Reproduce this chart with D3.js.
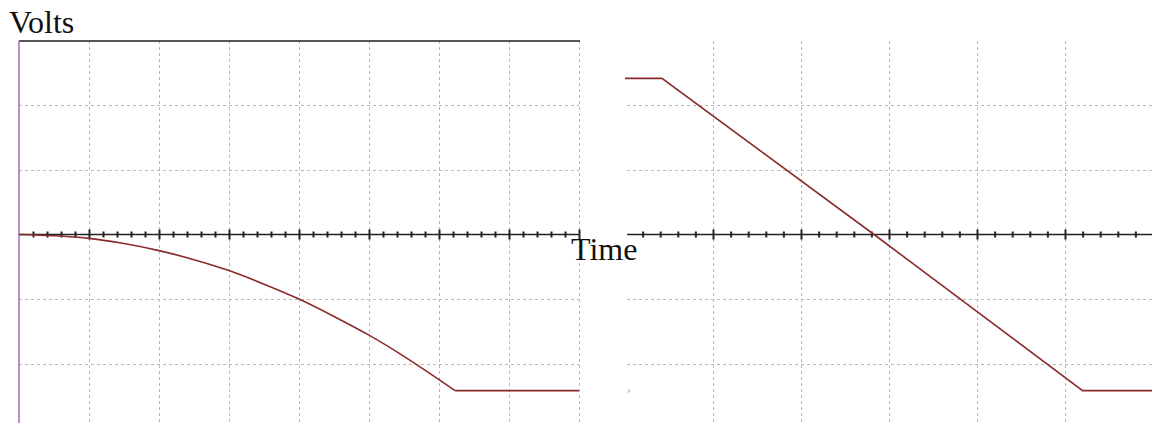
<!DOCTYPE html>
<html>
<head>
<meta charset="utf-8">
<script src="https://cdn.jsdelivr.net/npm/d3@7"></script>
<style>
  html, body { margin: 0; padding: 0; background: #fff; }
  svg { display: block; }
  text { font-family: "Liberation Serif", "Times New Roman", serif; fill: #111; }
</style>
</head>
<body>
<svg id="chart" width="1152" height="423"></svg>
<script>
// Left trace: voltage (in divisions) against time (in divisions)
const leftTime  = [0, 0.5, 1, 1.5, 2, 2.5, 3, 3.5, 4, 4.5, 5, 5.5, 6, 6.23, 8];
const leftVolts = [0, -0.02, -0.06, -0.14, -0.25, -0.39, -0.56, -0.77, -1.0, -1.27, -1.56, -1.89, -2.25, -2.42, -2.42];
const leftBendIndex = 13;

// Right trace
const rightTime  = [0, 0.42, 2.83, 5.2, 6];
const rightVolts = [2.42, 2.42, 0, -2.42, -2.42];

// Grid divisions
const leftGridTimes  = [1, 2, 3, 4, 5, 6, 7, 8];
const rightGridTimes = [1, 2, 3, 4, 5];
const voltGrid       = [-2, -1, 1, 2];
const axisLabels     = { volts: "Volts", time: "Time" };

const svg = d3.select("#chart");

const y  = d3.scaleLinear().domain([-3, 3]).range([428, 41]);
const xL = d3.scaleLinear().domain([0, 8]).range([19, 579]);
const xR = d3.scaleLinear().domain([0, 6]).range([625, 1153]);

const gridStyle = sel => sel.attr("stroke", "#b9b9b9").attr("stroke-width", 1)
  .attr("stroke-dasharray", "3,3").attr("fill", "none");

function drawPanel(x, gridTimes, tMax, opts) {
  const g = svg.append("g");
  const [x0, x1] = [x(0) + (opts.gridInset || 0), Math.min(x(tMax), 1152)];

  // horizontal grid
  g.selectAll("line.hg").data(voltGrid).join("line").attr("class", "hg")
    .attr("x1", x0).attr("x2", x1)
    .attr("y1", d => Math.round(y(d)) + 0.5).attr("y2", d => Math.round(y(d)) + 0.5)
    .call(gridStyle);

  // vertical grid
  g.selectAll("line.vg").data(gridTimes).join("line").attr("class", "vg")
    .attr("x1", d => Math.round(x(d)) + 0.5).attr("x2", d => Math.round(x(d)) + 0.5)
    .attr("y1", y(3)).attr("y2", 423)
    .call(gridStyle);

  // time axis with minor ticks (5 per division) and larger ticks on divisions
  const minor = d3.range(1, Math.round(tMax * 5) + 1).map(i => i / 5)
    .filter(t => Math.abs(t - Math.round(t)) > 1e-6);
  const major = d3.range(1, Math.floor(tMax) + 1);
  const ay = y(0);

  const axMinorB = d3.axisBottom(x).tickValues(minor).tickSize(3).tickSizeOuter(0).tickFormat("");
  const axMinorT = d3.axisTop(x).tickValues(minor).tickSize(3).tickSizeOuter(0).tickFormat("");
  const axMajorB = d3.axisBottom(x).tickValues(major).tickSize(5).tickSizeOuter(0).tickFormat("");
  const axMajorT = d3.axisTop(x).tickValues(major).tickSize(5).tickSizeOuter(0).tickFormat("");

  [axMinorB, axMinorT, axMajorB, axMajorT].forEach(ax => {
    const a = g.append("g").attr("transform", `translate(0,${ay})`).call(ax);
    a.select(".domain").remove();
    a.selectAll(".tick line").attr("stroke", "#222").attr("stroke-width", 2);
  });

  g.append("line")
    .attr("x1", x(0) + (opts.axisInset || 0)).attr("x2", x1)
    .attr("y1", ay).attr("y2", ay)
    .attr("stroke", "#222").attr("stroke-width", 1.5);
  return g;
}

// Left panel
drawPanel(xL, leftGridTimes, 8, {});
// frame: top edge and vertical voltage axis
svg.append("line").attr("x1", xL(0)).attr("x2", xL(8) + 1).attr("y1", y(3)).attr("y2", y(3))
  .attr("stroke", "#555").attr("stroke-width", 2);
svg.append("line").attr("x1", xL(0)).attr("x2", xL(0)).attr("y1", y(3)).attr("y2", 423)
  .attr("stroke", "#9a6cc0").attr("stroke-width", 1.5);

// Right panel
drawPanel(xR, rightGridTimes, 6, { gridInset: 2, axisInset: 2 });

// Traces
const traceColor = "#8a2b2b";
const leftPts = leftTime.map((t, i) => [t, leftVolts[i]]);

svg.append("path").datum(leftPts.slice(0, leftBendIndex + 1))
  .attr("d", d3.line().x(d => xL(d[0])).y(d => y(d[1])).curve(d3.curveNatural))
  .attr("fill", "none").attr("stroke", traceColor).attr("stroke-width", 1.6);
svg.append("path").datum(leftPts.slice(leftBendIndex))
  .attr("d", d3.line().x(d => xL(d[0])).y(d => y(d[1])))
  .attr("fill", "none").attr("stroke", traceColor).attr("stroke-width", 1.6);

const rightPts = rightTime.map((t, i) => [t, rightVolts[i]]);
svg.append("path").datum(rightPts)
  .attr("d", d3.line().x(d => xR(d[0])).y(d => y(d[1])))
  .attr("fill", "none").attr("stroke", traceColor).attr("stroke-width", 1.6);

// small marker at the left edge of the right panel
svg.append("text").attr("x", 627).attr("y", 393).attr("font-size", 10)
  .style("fill", "#6aae6a").text("›");

// Axis titles
svg.append("text").attr("x", 9).attr("y", 33).attr("font-size", 32).text(axisLabels.volts);
svg.append("text").attr("x", 571).attr("y", 260).attr("font-size", 32).text(axisLabels.time);
</script>
</body>
</html>
